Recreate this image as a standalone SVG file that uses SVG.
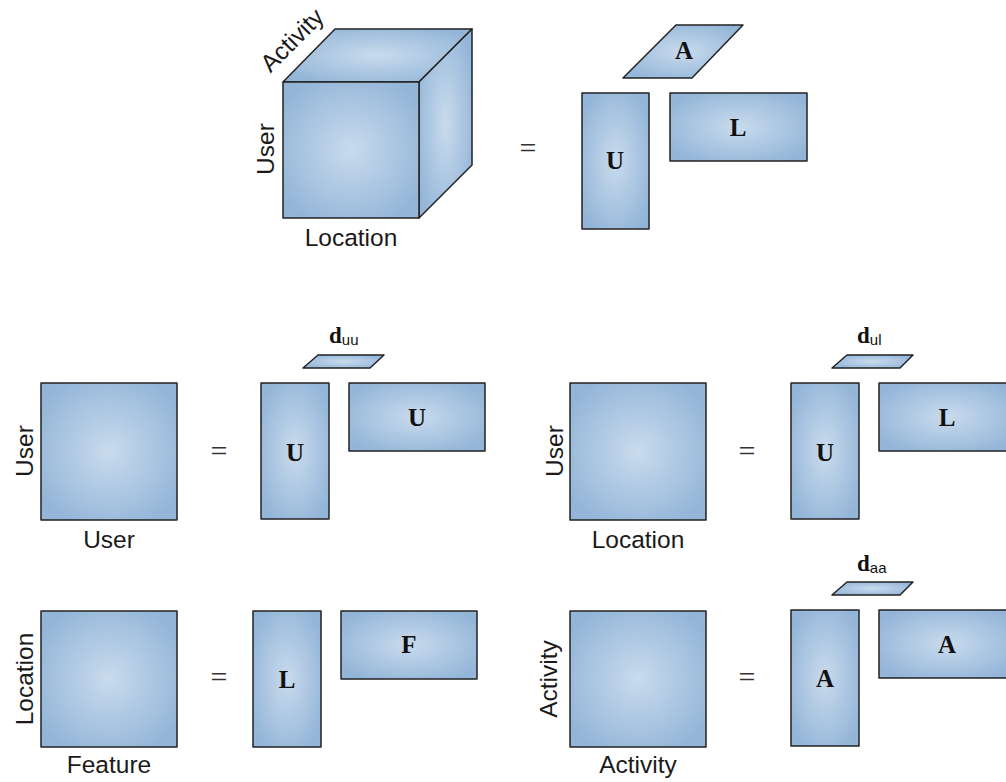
<svg xmlns="http://www.w3.org/2000/svg" width="1006" height="782" viewBox="0 0 1006 782">
<defs>
<radialGradient id="g" cx="0.5" cy="0.5" r="0.6">
<stop offset="0" stop-color="#c9dbed"/>
<stop offset="1" stop-color="#93b5d8"/>
</radialGradient>
<style>
.m{fill:url(#g);stroke:#222;stroke-width:1.5;stroke-linejoin:round}
.lab{font-family:"Liberation Sans",Arial,sans-serif;font-size:24.5px;fill:#1a1a1a;text-anchor:middle}
.b{font-family:"Liberation Serif","Times New Roman",serif;font-weight:bold;font-size:25px;fill:#111;text-anchor:middle}
.eq{font-family:"Liberation Serif","Times New Roman",serif;font-size:30px;fill:#333;text-anchor:middle}
.d{font-family:"Liberation Serif","Times New Roman",serif;font-weight:bold;font-size:23px;fill:#111}
.sub{font-family:"Liberation Sans",Arial,sans-serif;font-size:15px;font-weight:normal}
</style>
</defs>
<rect width="1006" height="782" fill="#fff"/>

<g id="cube">
<polygon class="m" points="283,82 335,29 472,29 419,82"/>
<polygon class="m" points="419,82 472,29 472,165 419,218"/>
<rect class="m" x="283" y="82" width="136" height="136"/>
<text class="lab" x="298" y="46" transform="rotate(-45 298 46)">Activity</text>
<text class="lab" x="274" y="149" transform="rotate(-90 274 149)">User</text>
<text class="lab" x="351" y="246">Location</text>
</g>
<g id="eq0"><text class="eq" x="528" y="158">=</text></g>
<g id="top-A"><polygon class="m" points="623,78 692,78 743,25 676,25"/><text class="b" x="684" y="59">A</text></g>
<g id="top-U"><rect class="m" x="582" y="93" width="67" height="136"/><text class="b" x="615" y="169">U</text></g>
<g id="top-L"><rect class="m" x="670" y="93" width="137" height="68"/><text class="b" x="738" y="136">L</text></g>

<g id="uu-mat">
<rect class="m" x="41" y="383" width="136" height="137"/>
<text class="lab" x="33" y="451" transform="rotate(-90 33 451)">User</text>
<text class="lab" x="109" y="548">User</text>
</g>
<g id="eq1"><text class="eq" x="219" y="461">=</text></g>
<g id="uu-d"><polygon class="m" points="303,368 370,368 384,355 318,355"/><text class="d" x="329" y="343">d<tspan class="sub" dy="2">uu</tspan></text></g>
<g id="uu-U1"><rect class="m" x="261" y="383" width="68" height="136"/><text class="b" x="295" y="461">U</text></g>
<g id="uu-U2"><rect class="m" x="349" y="383" width="136" height="68"/><text class="b" x="417" y="426">U</text></g>

<g id="ul-mat">
<rect class="m" x="570" y="383" width="136" height="137"/>
<text class="lab" x="563" y="451" transform="rotate(-90 563 451)">User</text>
<text class="lab" x="638" y="548">Location</text>
</g>
<g id="eq2"><text class="eq" x="747" y="461">=</text></g>
<g id="ul-d"><polygon class="m" points="832,368 900,368 913,355 847,355"/><text class="d" x="857" y="343">d<tspan class="sub" dy="2">ul</tspan></text></g>
<g id="ul-U"><rect class="m" x="791" y="383" width="68" height="136"/><text class="b" x="825" y="461">U</text></g>
<g id="ul-L"><rect class="m" x="879" y="383" width="136" height="68"/><text class="b" x="947" y="426">L</text></g>

<g id="lf-mat">
<rect class="m" x="41" y="611" width="136" height="136"/>
<text class="lab" x="33" y="679" transform="rotate(-90 33 679)">Location</text>
<text class="lab" x="109" y="773">Feature</text>
</g>
<g id="eq3"><text class="eq" x="219" y="687">=</text></g>
<g id="lf-L"><rect class="m" x="253" y="611" width="68" height="136"/><text class="b" x="287" y="688">L</text></g>
<g id="lf-F"><rect class="m" x="341" y="611" width="136" height="68"/><text class="b" x="409" y="653">F</text></g>

<g id="aa-mat">
<rect class="m" x="570" y="611" width="136" height="136"/>
<text class="lab" x="557" y="679" transform="rotate(-90 557 679)">Activity</text>
<text class="lab" x="638" y="773">Activity</text>
</g>
<g id="eq4"><text class="eq" x="747" y="687">=</text></g>
<g id="aa-d"><polygon class="m" points="832,595 900,595 913,582 847,582"/><text class="d" x="857" y="571">d<tspan class="sub" dy="2">aa</tspan></text></g>
<g id="aa-A1"><rect class="m" x="791" y="610" width="68" height="136"/><text class="b" x="825" y="687">A</text></g>
<g id="aa-A2"><rect class="m" x="879" y="610" width="136" height="68"/><text class="b" x="947" y="653">A</text></g>

<g id="connectors"/>
</svg>
